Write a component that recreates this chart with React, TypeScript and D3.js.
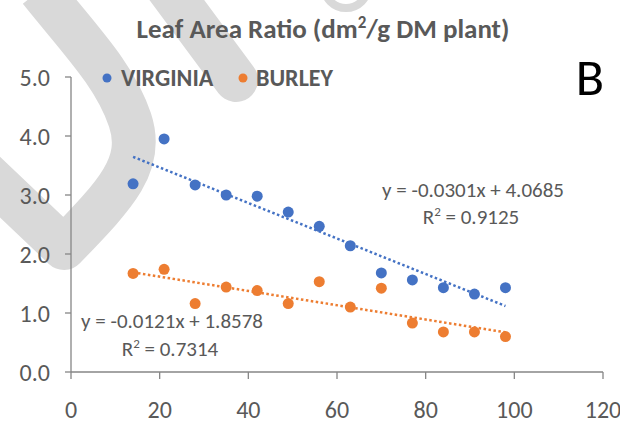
import React from "react";
import * as d3 from "d3";

const days = [14, 21, 28, 35, 42, 49, 56, 63, 70, 77, 84, 91, 98];
const virginia = [3.19, 3.95, 3.17, 3.0, 2.98, 2.71, 2.47, 2.14, 1.68, 1.56, 1.43, 1.32, 1.43];
const burley = [1.67, 1.74, 1.16, 1.44, 1.38, 1.16, 1.53, 1.1, 1.42, 0.83, 0.68, 0.68, 0.6];
const xTicks = [0, 20, 40, 60, 80, 100, 120];
const yTicks = [0, 1, 2, 3, 4, 5];
const trends = [
  { name: "VIRGINIA", slope: -0.0301, intercept: 4.0685, r2: "0.9125", color: "#4472C4" },
  { name: "BURLEY", slope: -0.0121, intercept: 1.8578, r2: "0.7314", color: "#ED7D31" },
];

const FONT = "Carlito, 'Liberation Sans Narrow', 'Open Sans', sans-serif";
const GRAY = "#595959";

export default function App() {
  const W = 620, H = 424;
  const x = d3.scaleLinear().domain([0, 120]).range([71, 603]);
  const y = d3.scaleLinear().domain([0, 5]).range([372, 77]);
  const series = [
    { values: virginia, color: trends[0].color },
    { values: burley, color: trends[1].color },
  ];
  const line = d3.line<number>().x((d) => x(d)).y((d) => d);
  const eqs = [
    { t: trends[0], ex: 473, ey: 197, ry: 224 },
    { t: trends[1], ex: 172, ey: 328, ry: 356 },
  ];
  return (
    <svg width={W} height={H} style={{ position: "absolute", left: 0, top: 0, background: "#fff" }}>
      <rect width={W} height={H} fill="#fff" />
      {/* watermark */}
      <g fill="none" stroke="#d9d9d9" strokeWidth={44} strokeLinejoin="round" strokeLinecap="round">
        <path d="M -20,168 L 64,248 C 115,195 145,165 130,120 C 115,75 80,40 40,-10" strokeLinecap="butt" />
        <path d="M 162,-20 L 236,80" />
        <circle cx={346} cy={-14} r={4} />
      </g>
      {/* title */}
      <text x={323} y={38} textAnchor="middle" fontFamily={FONT} fontWeight="bold" fontSize={27} fill={GRAY}>
        Leaf Area Ratio (dm<tspan fontSize={17} dy={-10}>2</tspan><tspan dy={10}>/g DM plant)</tspan>
      </text>
      {/* B */}
      <text x={590} y={95} textAnchor="middle" fontFamily={FONT} fontSize={52} fill="#000">B</text>
      {/* legend */}
      {[{ lx: 107, tx: 121 }, { lx: 243, tx: 256 }].map((p, i) => (
        <g key={i}>
          <circle cx={p.lx} cy={78} r={4.5} fill={trends[i].color} />
          <text x={p.tx} y={86} fontFamily={FONT} fontWeight="bold" fontSize={24} fill={GRAY}>{trends[i].name}</text>
        </g>
      ))}
      {/* axes */}
      <g stroke="#868686" strokeWidth={1.3}>
        <line x1={x(0)} x2={x(0)} y1={y(0)} y2={y(5)} />
        <line x1={x(0)} x2={x(120)} y1={y(0)} y2={y(0)} />
        {yTicks.map((t) => <line key={"y" + t} x1={x(0) - 6} x2={x(0)} y1={y(t)} y2={y(t)} />)}
        {xTicks.map((t) => <line key={"x" + t} x1={x(t)} x2={x(t)} y1={y(0)} y2={y(0) + 7} />)}
      </g>
      {yTicks.map((t) => (
        <text key={"yl" + t} x={50} y={y(t) + 9} textAnchor="end" fontFamily={FONT} fontSize={24} fill={GRAY}>{t.toFixed(1)}</text>
      ))}
      {xTicks.map((t) => (
        <text key={"xl" + t} x={x(t)} y={418} textAnchor="middle" fontFamily={FONT} fontSize={24} fill={GRAY}>{t}</text>
      ))}
      {/* trend lines */}
      {trends.map((t, i) => (
        <path key={"tr" + i}
          d={line.y((d) => y(t.slope * d + t.intercept))([days[0], days[days.length - 1]]) || ""}
          stroke={t.color} strokeWidth={2.5} strokeDasharray="2.5,2.5" fill="none" />
      ))}
      {/* points */}
      {series.map((s, i) => (
        <g key={"s" + i}>
          {s.values.map((v, j) => <circle key={j} cx={x(days[j])} cy={y(v)} r={5.5} fill={s.color} />)}
        </g>
      ))}
      {/* equations */}
      {eqs.map((e, i) => (
        <g key={"eq" + i} fontFamily={FONT} fontSize={21} fill={GRAY} textAnchor="middle">
          <text x={e.ex} y={e.ey}>{`y = ${e.t.slope.toFixed(4)}x + ${e.t.intercept.toFixed(4)}`}</text>
          <text x={e.ex - 2} y={e.ry}>R<tspan fontSize={13} dy={-8}>2</tspan><tspan dy={8}>{` = ${e.t.r2}`}</tspan></text>
        </g>
      ))}
    </svg>
  );
}
